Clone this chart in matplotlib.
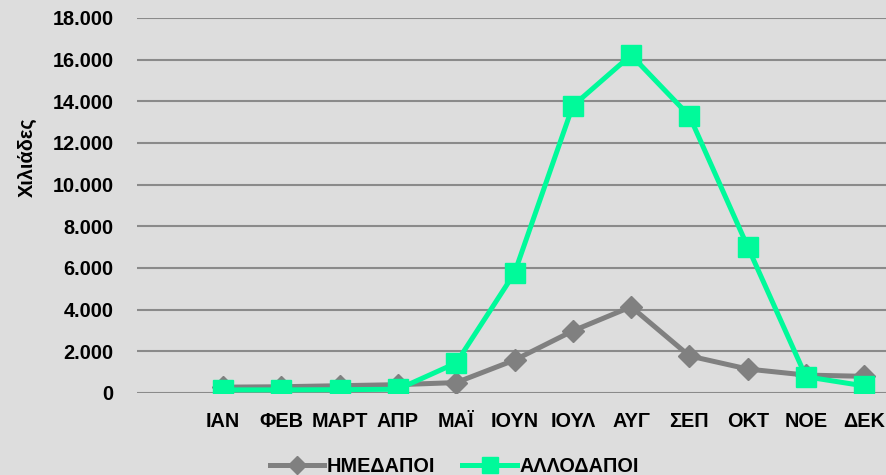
import numpy as np
import matplotlib.pyplot as plt
from matplotlib.ticker import FuncFormatter

months = ['ΙΑΝ', 'ΦΕΒ', 'ΜΑΡΤ', 'ΑΠΡ', 'ΜΑΪ', 'ΙΟΥΝ', 'ΙΟΥΛ', 'ΑΥΓ', 'ΣΕΠ', 'ΟΚΤ', 'ΝΟΕ', 'ΔΕΚ']
domestic = [280, 300, 350, 400, 500, 1580, 2980, 4140, 1780, 1150, 860, 800]      # ΗΜΕΔΑΠΟΙ
foreign = [150, 150, 160, 180, 1440, 5760, 13780, 16220, 13300, 7020, 780, 340]   # ΑΛΛΟΔΑΠΟΙ

plt.rcParams['font.family'] = ['Liberation Sans', 'DejaVu Sans']
plt.rcParams['font.weight'] = 'bold'

bg = '#dddddd'
fs = 14.3
fig = plt.figure(figsize=(8.86, 4.75), dpi=100, facecolor=bg)
ax = fig.add_axes([137/886, 1-393/475, 1-137/886, (393-18)/475], facecolor=bg)

x = np.arange(len(months))
l1, = ax.plot(x, domestic, color='#808080', lw=3.6, marker='D', ms=11, label='ΗΜΕΔΑΠΟΙ', zorder=3)
l2, = ax.plot(x, foreign, color='#00fa9a', lw=3.6, marker='s', ms=14, label='ΑΛΛΟΔΑΠΟΙ', zorder=4)

ax.set_ylim(0, 18000)
ax.set_yticks(np.arange(0, 18001, 2000))
ax.yaxis.set_major_formatter(FuncFormatter(lambda v, p: f'{int(v):,}'.replace(',', '.')))
ax.set_xlim((137-223)/58.3, (886-223)/58.3)
ax.set_xticks(x)
ax.set_xticklabels(months)
ax.grid(axis='y', color='#8a8a8a', lw=1.5)
ax.set_axisbelow(True)
for s in ax.spines.values():
    s.set_visible(False)
ax.tick_params(axis='both', length=0, labelsize=fs)
ax.tick_params(axis='y', pad=17)
ax.tick_params(axis='x', pad=14)
for t in ax.get_xticklabels() + ax.get_yticklabels():
    t.set_fontweight('bold')

fig.text(27/886, 1-157/475, 'Χιλιάδες', rotation=90, ha='center', va='center', fontsize=fs, fontweight='bold')

leg = fig.legend(handles=[l1, l2], loc='center', bbox_to_anchor=(454/886, 1-466/475), ncol=2,
                 frameon=False, fontsize=fs, handlelength=2.75, handletextpad=0.1, columnspacing=1.4,
                 borderaxespad=0, markerscale=0.8)
for t in leg.get_texts():
    t.set_fontweight('bold')

fig.savefig('out.png', dpi=100, facecolor=bg)
